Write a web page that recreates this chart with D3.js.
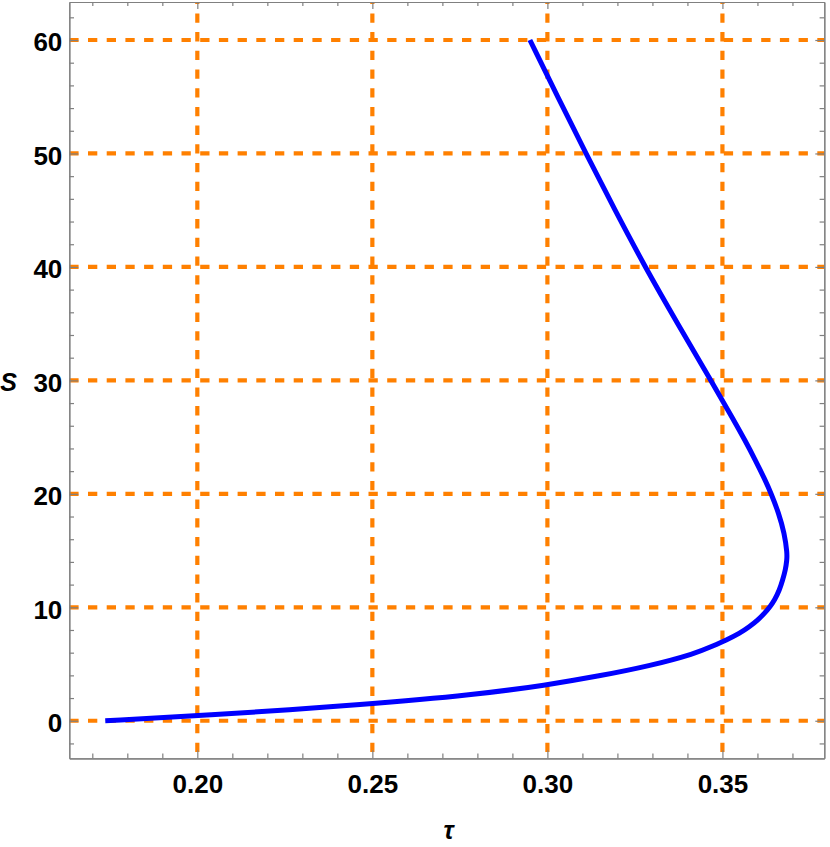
<!DOCTYPE html>
<html>
<head>
<meta charset="utf-8">
<script src="https://cdn.jsdelivr.net/npm/d3@7"></script>
<style>
  body { margin: 0; background: #fff; }
  .tick text { font-family: "Liberation Sans", Arial, sans-serif; font-weight: bold; }
</style>
</head>
<body>
<svg id="chart" width="830" height="847"></svg>
<script>
// curve, from the lower end up to S = 60
var tauValues = [0.1737, 0.20, 0.25, 0.2787, 0.30, 0.3148, 0.3291, 0.3424, 0.3472, 0.3511,
                 0.3549, 0.3577, 0.3601, 0.3620, 0.3636, 0.3649, 0.3663, 0.3672, 0.3680,
                 0.3684, 0.3685, 0.3677, 0.3661, 0.3639, 0.3622, 0.3594, 0.3564, 0.3532,
                 0.3467, 0.3372, 0.3279, 0.3193, 0.3110, 0.3029, 0.2950];
var sValues   = [0, 0.41, 1.47, 2.27, 3.15, 3.95, 4.82, 5.94, 6.58, 7.11,
                 7.70, 8.29, 8.87, 9.47, 10.05, 10.64, 11.52, 12.40, 13.28,
                 14.16, 14.76, 16.52, 18.28, 20.04, 21.22, 22.98, 24.74, 26.51,
                 30, 35, 40, 45, 50, 55, 60];

var xMajor = [0.20, 0.25, 0.30, 0.35];
var xMinor = [0.17, 0.18, 0.19, 0.21, 0.22, 0.23, 0.24, 0.26, 0.27, 0.28, 0.29,
              0.31, 0.32, 0.33, 0.34, 0.36, 0.37];
var yMajor = [0, 10, 20, 30, 40, 50, 60];
var yMinor = [-2, 2, 4, 6, 8, 12, 14, 16, 18, 22, 24, 26, 28, 32, 34, 36, 38,
              42, 44, 46, 48, 52, 54, 56, 58, 62];

// plot box (window.top is reserved, so use a margin object)
var box = {left: 69.3, right: 824.3, top: 2, bottom: 758.3};

var x = d3.scaleLinear().domain([0.16343, 0.3791]).range([box.left, box.right]);
var y = d3.scaleLinear().domain([-3.31, 63.35]).range([box.bottom, box.top]);

var svg = d3.select("#chart");

// grid lines
var orange = "#ff8000";
svg.append("g").selectAll("line")
  .data(yMajor).enter().append("line")
  .attr("x1", box.left).attr("x2", box.right)
  .attr("y1", function(d) { return y(d); })
  .attr("y2", function(d) { return y(d); })
  .attr("stroke", orange).attr("stroke-width", 4.2)
  .attr("stroke-dasharray", "9.3,9.4");

svg.append("g").selectAll("line")
  .data(xMajor).enter().append("line")
  .attr("y1", box.top).attr("y2", box.bottom)
  .attr("x1", function(d) { return x(d); })
  .attr("x2", function(d) { return x(d); })
  .attr("stroke", orange).attr("stroke-width", 4.2)
  .attr("stroke-dasharray", "9.3,9.4")
  .attr("stroke-dashoffset", 7.3);

// the curve (basis spline smooths the reading noise)
var pts = tauValues.map(function(t, i) { return [t, sValues[i]]; });
var line = d3.line()
  .x(function(d) { return x(d[0]); })
  .y(function(d) { return y(d[1]); })
  .curve(d3.curveBasis);

svg.append("path")
  .datum(pts)
  .attr("d", line)
  .attr("fill", "none")
  .attr("stroke", "#0000ff")
  .attr("stroke-width", 5);

// frame with inward ticks on all sides
var gray = "#808080";
function frame(g) {
  g.selectAll("path.domain").attr("stroke", gray).attr("stroke-width", 1.2);
  g.selectAll(".tick line").attr("stroke", gray).attr("stroke-width", 1.2);
  g.selectAll(".tick text").attr("fill", "#000").style("font-size", "26px");
}

svg.append("g").attr("transform", "translate(0," + box.bottom + ")")
  .call(d3.axisBottom(x).tickValues(xMinor).tickFormat("").tickSizeInner(-4.7).tickSizeOuter(0)).call(frame);
svg.append("g").attr("transform", "translate(0," + box.bottom + ")")
  .call(d3.axisBottom(x).tickValues(xMajor).tickFormat(d3.format(".2f")).tickSizeInner(-8).tickSizeOuter(0).tickPadding(16))
  .call(frame);

svg.append("g").attr("transform", "translate(0," + box.top + ")")
  .call(d3.axisTop(x).tickValues(xMinor).tickFormat("").tickSizeInner(-4).tickSizeOuter(0)).call(frame);
svg.append("g").attr("transform", "translate(0," + box.top + ")")
  .call(d3.axisTop(x).tickValues(xMajor).tickFormat("").tickSizeInner(-7).tickSizeOuter(0)).call(frame);

svg.append("g").attr("transform", "translate(" + box.left + ",0)")
  .call(d3.axisLeft(y).tickValues(yMinor).tickFormat("").tickSizeInner(-4.7).tickSizeOuter(0)).call(frame);
svg.append("g").attr("transform", "translate(" + box.left + ",0)")
  .call(d3.axisLeft(y).tickValues(yMajor).tickFormat(d3.format("d")).tickSizeInner(-9).tickSizeOuter(0).tickPadding(7))
  .call(frame)
  .selectAll(".tick text").attr("dy", "0.42em");

svg.append("g").attr("transform", "translate(" + box.right + ",0)")
  .call(d3.axisRight(y).tickValues(yMinor).tickFormat("").tickSizeInner(-4.7).tickSizeOuter(0)).call(frame);
svg.append("g").attr("transform", "translate(" + box.right + ",0)")
  .call(d3.axisRight(y).tickValues(yMajor).tickFormat("").tickSizeInner(-9).tickSizeOuter(0)).call(frame);

// axis titles
svg.append("text")
  .attr("x", 8.5).attr("y", 390.5)
  .attr("text-anchor", "middle")
  .style("font-family", "'Liberation Sans', Arial, sans-serif")
  .style("font-weight", "bold").style("font-style", "italic").style("font-size", "25px")
  .text("S");

svg.append("text")
  .attr("x", 448.5).attr("y", 839)
  .attr("text-anchor", "middle")
  .style("font-family", "'Liberation Sans', Arial, sans-serif")
  .style("font-weight", "bold").style("font-style", "italic").style("font-size", "25px")
  .text("τ");
</script>
</body>
</html>
